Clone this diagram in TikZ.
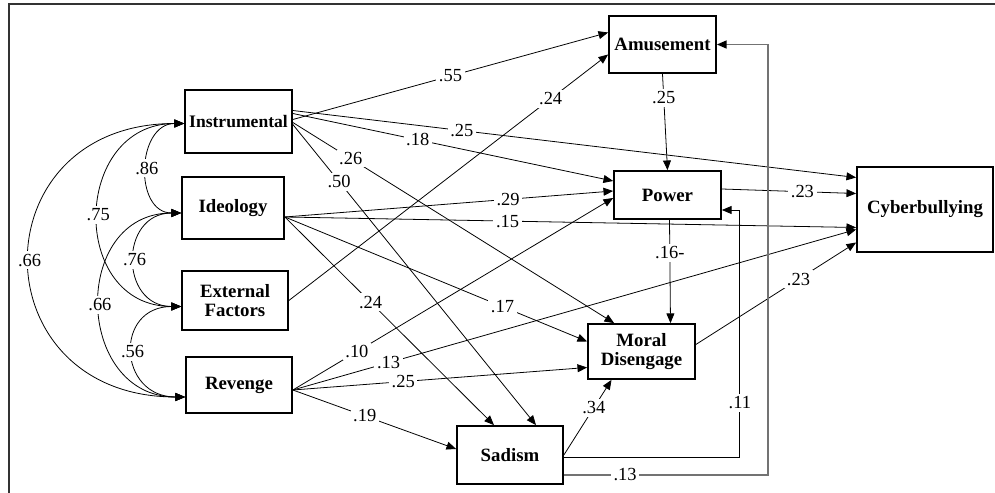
\documentclass[tikz,border=0pt]{standalone}
\usepackage{fontspec}
\setmainfont{Liberation Serif}
\usetikzlibrary{arrows.meta}
\usetikzlibrary{calc}

\begin{document}
\begin{tikzpicture}[
                x=0.02cm, y=-0.02cm,
                var/.style={draw, line width=1pt, inner sep=0pt, align=center,
                        font=\fontsize{10.7}{10.4}\selectfont\bfseries},
                eff/.style={-{Triangle[length=5.5pt, width=4.5pt]}, line width=0.45pt},
                cor/.style={{Triangle[length=5.5pt, width=4.5pt]}-{Triangle[length=5.5pt, width=4.5pt]}, line width=0.45pt},
                coef/.style={fill=white, inner sep=1.5pt, font=\fontsize{10.5}{12}\selectfont} ]

            \useasboundingbox (0,0) rectangle (995,493);
            \draw[line width=1.1pt, black!80] (995,4) -- (9,4) -- (9,493);

            % motives
            \node[var, minimum width=2.14cm, minimum height=1.26cm,
                font=\fontsize{10}{10.4}\selectfont\bfseries] (inst) at (238.5,121.5) {Instrumental};
            \node[var, minimum width=2.04cm, minimum height=1.24cm] (ideo) at (233,208) {Ideology};
            \node[var, minimum width=2.12cm, minimum height=1.18cm] (ext) at (235,300.5) {External\\Factors};
            \node[var, minimum width=2.12cm, minimum height=1.12cm] (rev) at (239,385) {Revenge};

            % mediators and outcome
            \node[var, minimum width=2.14cm, minimum height=1.14cm] (amuse) at (662.5,44.5) {Amusement};
            \node[var, minimum width=2.14cm, minimum height=0.96cm] (power) at (667.5,195) {Power};
            \node[var, minimum width=2.14cm, minimum height=1.10cm] (moral) at (641.5,351.5) {Moral\\Disengage};
            \node[var, minimum width=2.12cm, minimum height=1.16cm] (sad) at (510,455) {Sadism};
            \node[var, minimum width=2.72cm, minimum height=1.70cm] (cyber) at (925,209.5) {Cyberbullying};

            % correlations
            \coordinate (instC) at ($(inst.west)+(0,2)$);
            \coordinate (ideoC) at ($(ideo.west)+(0,5)$);
            \coordinate (extC) at ($(ext.west)+(0,6)$);
            \coordinate (revC) at ($(rev.west)+(0,12)$);

            \draw[cor] (instC) to[out=180, in=180, looseness=1.36] node[coef] {.86} (ideoC);
            \draw[cor] (instC) to[out=180, in=180, looseness=1.57] node[coef] {.75} (extC);
            \draw[cor] (instC) to[out=180, in=180, looseness=1.93] node[coef] {.66} (revC);
            \draw[cor] (ideoC) to[out=180, in=180, looseness=1.7] node[coef] {.76} (extC);
            \draw[cor] (ideoC) to[out=180, in=180, looseness=1.54] node[coef] {.66} (revC);
            \draw[cor] (extC) to[out=180, in=180, looseness=1.9] node[coef] {.56} (revC);

            % paths
            \coordinate (ideoOut) at ($(ideo.east)+(0,9)$);
            \coordinate (revOut) at ($(rev.east)+(0,5)$);

            \draw[eff] ($(inst.east)+(0,-2)$) -- node[coef, pos=.50] {.55} ($(amuse.west)+(0,-12)$);
            \draw[eff] ($(inst.east)+(0,-11)$) -- node[coef, pos=.30] {.25} ($(cyber.west)+(0,-32)$);
            \draw[eff] ($(inst.east)+(0,-8)$) -- node[coef, pos=.39] {.18} ($(power.west)+(0,-14)$);
            \draw[eff] ($(inst.east)+(0,1)$) -- node[coef, pos=.18] {.26} ($(moral.north west)+(27,0)$);
            \draw[eff] ($(inst.east)+(0,3)$) -- node[coef, pos=.19] {.50} ($(sad.north)+(26,0)$);

            \draw[eff] (ideoOut) -- node[coef, pos=.68] {.29} ($(power.west)+(0,-4)$);
            \draw[eff] (ideoOut) -- node[coef, pos=.39] {.15} ($(cyber.west)+(0,18)$);
            \draw[eff] (ideoOut) -- node[coef, pos=.72] {.17} ($(moral.west)+(0,-10)$);
            \draw[eff] (ideoOut) -- node[coef, pos=.41] {.24} ($(sad.north)+(-16,0)$);

            \draw[eff] (ext.east) -- node[coef, pos=.82] {.24} ($(amuse.west)+(0,10)$);

            \draw[eff] (revOut) -- node[coef, pos=.20] {.10} ($(power.west)+(0,3)$);
            \draw[eff] (revOut) -- node[coef, pos=.17] {.13} ($(cyber.west)+(0,20)$);
            \draw[eff] (revOut) -- node[coef, pos=.375] {.25} ($(moral.west)+(0,16)$);
            \draw[eff] (revOut) -- node[coef, pos=.44] {.19} ($(sad.west)+(0,-6)$);

            \draw[eff] (amuse.south) -- node[coef, pos=.25] {.25} (power.north);
            \draw[eff] ($(power.east)+(0,-6)$) -- node[coef, pos=.6] {.23} ($(cyber.west)+(0,-16)$);
            \draw[eff] ($(power.south)+(2,0)$) -- node[coef, pos=.32] {.16-} ($(moral.north)+(29,0)$);
            \draw[eff] ($(moral.east)+(0,-7)$) -- node[coef, pos=.64] {.23} ($(cyber.west)+(0,33)$);
            \draw[eff] (sad.east) -- node[coef, pos=.63] {.34} ($(moral.south)+(-30,0)$);

            \draw[eff] ($(sad.east)+(0,2)$) -| node[coef, pos=.61] {.11} ($(power.east)+(18,15)$)
                -- ($(power.east)+(0,15)$);
            \draw[-{Triangle[length=5.5pt, width=4.5pt, color=black]}, black!55, line width=0.9pt]
                ($(sad.east)+(0,20)$) -| node[coef, text=black, pos=.15] {.13} ($(amuse.east)+(51,0)$)
                -- (amuse.east);
        \end{tikzpicture}
\end{document}
